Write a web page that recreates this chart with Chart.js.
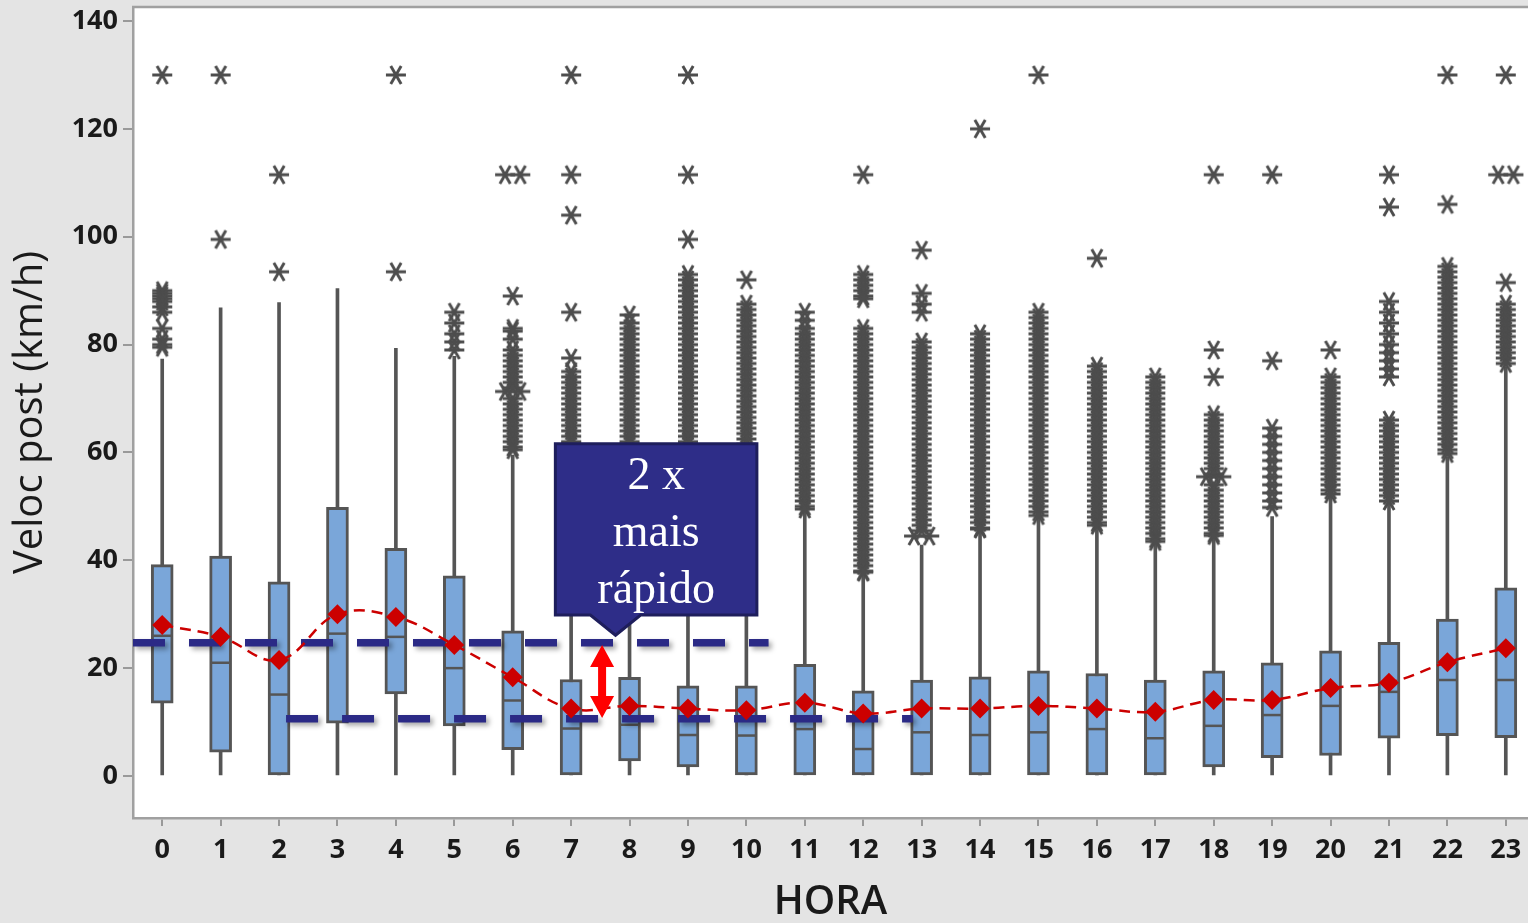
<!DOCTYPE html>
<html lang="pt-BR">
<head>
    <meta charset="UTF-8">
    <title>Veloc post por HORA</title>
    <script src="https://cdn.jsdelivr.net/npm/chart.js"></script>
    <style>
        html, body { margin: 0; padding: 0; background: #e4e4e4; }
        canvas { display: block; }
    </style>
</head>
<body>
    <canvas id="boxChart" width="1528" height="923"></canvas>
    <script>
        // Horas e estatísticas dos boxplots (km/h)
        const hours = [0, 1, 2, 3, 4, 5, 6, 7, 8, 9, 10, 11, 12, 13, 14, 15, 16, 17, 18, 19, 20, 21, 22, 23];
        const whiskerLow = [0, 0, 0, 0, 0, 0, 0, 0, 0, 0, 0, 0, 0, 0, 0, 0, 0, 0, 0, 0, 0, 0, 0, 0];
        const q1 = [13.5, 4.4, 0, 9.8, 15.2, 9.3, 4.9, 0, 2.8, 1.7, 0, 0, 0, 0, 0, 0, 0, 0, 1.7, 3.4, 3.8, 7.0, 7.5, 7.1];
        const medians = [26.0, 21.0, 15.1, 26.4, 25.8, 20.0, 14.0, 8.8, 9.5, 7.6, 7.5, 8.7, 5.0, 8.1, 7.6, 8.1, 8.7, 7.0, 9.3, 11.3, 13.0, 15.6, 17.8, 17.8];
        const q3 = [39.2, 40.8, 36.0, 49.8, 42.2, 37.1, 26.9, 17.9, 18.3, 16.7, 16.7, 20.7, 15.8, 17.8, 18.4, 19.5, 19.0, 17.8, 19.5, 21.0, 23.2, 24.8, 29.1, 34.9];
        const whiskerHigh = [77.3, 86.8, 87.8, 90.4, 79.3, 77.8, 59.5, 61.0, 60.0, 61.0, 41.5, 49.3, 37.3, 42.8, 45.6, 48.1, 46.2, 43.1, 44.4, 48.1, 51.8, 50.6, 59.2, 75.9];
        const means = [28.0, 25.8, 21.5, 30.0, 29.5, 24.3, 18.3, 12.5, 13.0, 12.5, 12.2, 13.6, 11.6, 12.5, 12.5, 13.0, 12.5, 11.9, 14.1, 14.1, 16.3, 17.3, 21.1, 23.7];

        // Outliers por hora
        const outliers = [
            [130, 90, 89.5, 89, 88.5, 88, 87, 86, 83, 81, 80, 79.5],
            [130, 99.5],
            [111.5, 93.5],
            [],
            [130, 93.5],
            [86, 84, 82, 80.5, 79],
            [111.5, 111.5, 89, 83, 82.5, 81, 79, 78, 77, 76, 75, 74, 73, 72, 71.3, 71.3, 70, 69, 68, 67, 66, 65, 64, 63, 62, 61, 60.5],
            [130, 111.5, 104, 86, 77.5, 75, 74, 73, 72, 71, 70, 69, 68, 67, 66, 65, 64, 63, 62, 61.7],
            [85.5, 84, 83, 82, 81, 80, 79, 78, 77, 76, 75, 74, 73, 72, 71, 70, 69, 68, 67, 66, 65, 64, 63, 62, 61.5],
            [130, 111.5, 99.5, 93, 92, 91, 90, 89, 88, 87, 86, 85, 84, 83, 82, 81, 80, 79, 78, 77, 76, 75, 74, 73, 72, 71, 70, 69, 68, 67, 66, 65, 64, 63, 62, 61.5],
            [92, 87.5, 86.5, 85.5, 84.5, 83.5, 82.5, 81.5, 80.5, 79.5, 78.5, 77.5, 76.5, 75.5, 74.5, 73.5, 72.5, 71.5, 70.5, 69.5, 68.5, 67.5, 66.5, 65.5, 64.5, 63.5, 62.5, 61.5, 60.5, 59.5, 58.5, 57.5, 56.5, 55.5, 54.5, 53.5, 52.5, 51.5, 50.5, 49.5, 48.5, 47.5, 46.5, 45.5, 44.5, 43.5, 42.5, 42],
            [86, 84.5, 83, 82, 81, 80, 79, 78, 77, 76, 75, 74, 73, 72, 71, 70, 69, 68, 67, 66, 65, 64, 63, 62, 61, 60, 59, 58, 57, 56, 55, 54, 53, 52, 51, 50, 49.5],
            [111.5, 93, 92, 91, 90, 89, 88.5, 83, 82, 81, 80, 79, 78, 77, 76, 75, 74, 73, 72, 71, 70, 69, 68, 67, 66, 65, 64, 63, 62, 61, 60, 59, 58, 57, 56, 55, 54, 53, 52, 51, 50, 49, 48, 47, 46, 45, 44, 43, 42, 41, 40, 39, 38, 37.8],
            [97.5, 89.5, 87.5, 86, 80.5, 79.5, 78.5, 77.5, 76.5, 75.5, 74.5, 73.5, 72.5, 71.5, 70.5, 69.5, 68.5, 67.5, 66.5, 65.5, 64.5, 63.5, 62.5, 61.5, 60.5, 59.5, 58.5, 57.5, 56.5, 55.5, 54.5, 53.5, 52.5, 51.5, 50.5, 49.5, 48.5, 47.5, 46.5, 45.5, 44.5, 44.5],
            [120, 82, 81, 80, 79, 78, 77, 76, 75, 74, 73, 72, 71, 70, 69, 68, 67, 66, 65, 64, 63, 62, 61, 60, 59, 58, 57, 56, 55, 54, 53, 52, 51, 50, 49, 48, 47, 46, 45.8],
            [130, 86, 85, 84, 83, 82, 81, 80, 79, 78, 77, 76, 75, 74, 73, 72, 71, 70, 69, 68, 67, 66, 65, 64, 63, 62, 61, 60, 59, 58, 57, 56, 55, 54, 53, 52, 51, 50, 49, 48.3],
            [96, 76, 75, 74, 73, 72, 71, 70, 69, 68, 67, 66, 65, 64, 63, 62, 61, 60, 59, 58, 57, 56, 55, 54, 53, 52, 51, 50, 49, 48, 47, 46.5],
            [74, 73, 72, 71, 70, 69, 68, 67, 66, 65, 64, 63, 62, 61, 60, 59, 58, 57, 56, 55, 54, 53, 52, 51, 50, 49, 48, 47, 46, 45, 44, 43.5],
            [111.5, 79, 74, 67, 66, 65, 64, 63, 62, 61, 60, 59, 58, 57, 56, 55.5, 55.5, 54, 53, 52, 51, 50, 49, 48, 47, 46, 45, 44.6],
            [111.5, 77, 64.5, 63, 61.5, 60, 58.5, 57, 55.5, 54, 52.5, 51, 49.8],
            [79, 74, 73, 72, 71, 70, 69, 68, 67, 66, 65, 64, 63, 62, 61, 60, 59, 58, 57, 56, 55, 54, 53, 52.3],
            [111.5, 105.5, 88, 86, 84, 82, 80, 78.5, 77, 75.5, 74, 66, 65, 64, 63, 62, 61, 60, 59, 58, 57, 56, 55, 54, 53, 52, 51],
            [130, 106, 94.5, 93.5, 92.5, 91.5, 90.5, 89.5, 88.5, 87.5, 86.5, 85.5, 84.5, 83.5, 82.5, 81.5, 80.5, 79.5, 78.5, 77.5, 76.5, 75.5, 74.5, 73.5, 72.5, 71.5, 70.5, 69.5, 68.5, 67.5, 66.5, 65.5, 64.5, 63.5, 62.5, 61.5, 60.5, 59.8],
            [130, 111.5, 111.5, 91.5, 87.5, 86.5, 85.5, 84.5, 83.5, 82.5, 81.5, 80.5, 79.5, 78.5, 77.5, 76.5]
        ];

        // Linhas de referência (velocidade) e eixo
        const refUpper = 24.7;
        const refLower = 10.6;
        const yTicks = [0, 20, 40, 60, 80, 100, 120, 140];
        const calloutLines = ['2 x', 'mais', 'rápido'];

        // Geometria das anotações (coordenadas dos dados)
        const upperSpan = [-0.5, 10.38];
        const lowerSpan = [2.12, 12.85];
        const callout = { x0: 6.73, x1: 10.18, y0: 29.85, y1: 61.6, baseX0: 7.33, baseX1: 8.19, tipX: 7.76, tipY: 26.1 };
        const arrow = { x: 7.53, y0: 10.75, y1: 24.3 };

        const GRAY = '#555555';

        // marcador asterisco (6 raios) como no Minitab
        function makeAsterisk() {
            const c = document.createElement('canvas');
            c.width = 24; c.height = 24;
            const g = c.getContext('2d');
            g.strokeStyle = '#4d4d4d';
            g.lineWidth = 2.9;
            g.beginPath();
            g.moveTo(2, 12); g.lineTo(22, 12);
            g.moveTo(6.8, 3); g.lineTo(17.2, 21);
            g.moveTo(17.2, 3); g.lineTo(6.8, 21);
            g.stroke();
            return c;
        }
        const asterisk = makeAsterisk();

        // outliers repetidos ficam lado a lado
        const outlierPoints = [];
        outliers.forEach((vals, i) => {
            const count = {};
            vals.forEach(v => { count[v] = (count[v] || 0) + 1; });
            const used = {};
            vals.forEach(v => {
                const k = used[v] || 0;
                used[v] = k + 1;
                const off = count[v] > 1 ? (k - (count[v] - 1) / 2) * 0.26 : 0;
                outlierPoints.push({ x: hours[i] + off, y: v });
            });
        });

        const bgPlugin = {
            id: 'bg',
            beforeDraw(chart) {
                const { ctx, chartArea: a } = chart;
                ctx.save();
                ctx.fillStyle = '#e4e4e4';
                ctx.fillRect(0, 0, chart.width, chart.height);
                ctx.fillStyle = '#ffffff';
                ctx.fillRect(a.left, a.top, a.right - a.left, a.bottom - a.top);
                ctx.restore();
            },
            afterDraw(chart) {
                const { ctx, chartArea: a } = chart;
                ctx.save();
                ctx.strokeStyle = '#a0a0a0';
                ctx.lineWidth = 2.5;
                ctx.beginPath();
                ctx.moveTo(a.left - 1, a.top);
                ctx.lineTo(a.right, a.top);
                ctx.stroke();
                ctx.restore();
            }
        };

        const shadowPlugin = {
            id: 'shadow',
            beforeDatasetDraw(chart, args) {
                if (!chart.data.datasets[args.index].shadow) return;
                const ctx = chart.ctx;
                ctx.save();
                ctx.shadowColor = 'rgba(0,0,0,0.35)';
                ctx.shadowBlur = 5;
                ctx.shadowOffsetX = 3;
                ctx.shadowOffsetY = 3;
            },
            afterDatasetDraw(chart, args) {
                if (!chart.data.datasets[args.index].shadow) return;
                chart.ctx.restore();
            }
        };

        const calloutPlugin = {
            id: 'callout',
            afterDraw(chart) {
                const { ctx, scales: { x, y } } = chart;
                const l = x.getPixelForValue(callout.x0), r = x.getPixelForValue(callout.x1);
                const t = y.getPixelForValue(callout.y1), b = y.getPixelForValue(callout.y0);
                const bl = x.getPixelForValue(callout.baseX0), br = x.getPixelForValue(callout.baseX1);
                const tx = x.getPixelForValue(callout.tipX), ty = y.getPixelForValue(callout.tipY);
                ctx.save();
                ctx.beginPath();
                ctx.moveTo(l, t);
                ctx.lineTo(r, t);
                ctx.lineTo(r, b);
                ctx.lineTo(br, b);
                ctx.lineTo(tx, ty);
                ctx.lineTo(bl, b);
                ctx.lineTo(l, b);
                ctx.closePath();
                ctx.fillStyle = '#2e2d88';
                ctx.fill();
                ctx.lineWidth = 3;
                ctx.strokeStyle = '#1e1e5c';
                ctx.stroke();

                ctx.fillStyle = '#ffffff';
                ctx.font = '46px "Liberation Serif", serif';
                ctx.textAlign = 'center';
                ctx.textBaseline = 'alphabetic';
                const cx = (l + r) / 2;
                calloutLines.forEach((s, i) => ctx.fillText(s, cx, t + 45 + i * 57));

                // seta dupla vermelha
                const ax = x.getPixelForValue(arrow.x);
                const ay0 = y.getPixelForValue(arrow.y1), ay1 = y.getPixelForValue(arrow.y0);
                const head = 22, hw = 12, sw = 4;
                ctx.fillStyle = '#ff0000';
                ctx.beginPath();
                ctx.moveTo(ax, ay0);
                ctx.lineTo(ax + hw, ay0 + head);
                ctx.lineTo(ax + sw, ay0 + head);
                ctx.lineTo(ax + sw, ay1 - head);
                ctx.lineTo(ax + hw, ay1 - head);
                ctx.lineTo(ax, ay1);
                ctx.lineTo(ax - hw, ay1 - head);
                ctx.lineTo(ax - sw, ay1 - head);
                ctx.lineTo(ax - sw, ay0 + head);
                ctx.lineTo(ax - hw, ay0 + head);
                ctx.closePath();
                ctx.fill();
                ctx.restore();
            }
        };

        const tickFont = { family: '"Open Sans", sans-serif', size: 27, weight: '700' };

        new Chart(document.getElementById('boxChart'), {
            type: 'bar',
            data: {
                datasets: [
                    {
                        type: 'bar',
                        label: 'whiskers',
                        data: hours.map((h, i) => ({ x: h, y: [whiskerLow[i], whiskerHigh[i]] })),
                        backgroundColor: GRAY,
                        barThickness: 3,
                        grouped: false,
                        order: 10
                    },
                    {
                        type: 'line',
                        label: 'outliers',
                        data: outlierPoints,
                        showLine: false,
                        pointStyle: asterisk,
                        pointRadius: 10,
                        order: 9
                    },
                    {
                        type: 'bar',
                        label: 'caixas',
                        data: hours.map((h, i) => ({ x: h, y: [q1[i], q3[i]] })),
                        backgroundColor: '#7aa6d9',
                        borderColor: GRAY,
                        borderWidth: 3,
                        borderSkipped: false,
                        barThickness: 22,
                        grouped: false,
                        order: 8
                    },
                    {
                        type: 'line',
                        label: 'mediana',
                        data: hours.map((h, i) => ({ x: h, y: medians[i] })),
                        showLine: false,
                        pointStyle: 'line',
                        pointRadius: 10,
                        pointBorderWidth: 2.5,
                        pointBorderColor: GRAY,
                        order: 7
                    },
                    {
                        type: 'line',
                        label: 'ref1',
                        shadow: true,
                        data: upperSpan.map(v => ({ x: v, y: refUpper })),
                        borderColor: '#2b2a86',
                        borderWidth: 7.5,
                        borderDash: [32, 24],
                        borderCapStyle: 'butt',
                        pointRadius: 0,
                        order: 6
                    },
                    {
                        type: 'line',
                        label: 'ref2',
                        shadow: true,
                        data: lowerSpan.map(v => ({ x: v, y: refLower })),
                        borderColor: '#2b2a86',
                        borderWidth: 7.5,
                        borderDash: [32, 24],
                        borderCapStyle: 'butt',
                        pointRadius: 0,
                        order: 5
                    },
                    {
                        type: 'line',
                        label: 'média',
                        data: hours.map((h, i) => ({ x: h, y: means[i] })),
                        borderColor: '#cc0000',
                        borderWidth: 2.5,
                        borderDash: [11, 7],
                        tension: 0.4,
                        pointStyle: 'rectRot',
                        pointRadius: 10,
                        pointBackgroundColor: '#cc0000',
                        pointBorderWidth: 0,
                        order: 4
                    }
                ]
            },
            options: {
                responsive: false,
                animation: false,
                layout: { autoPadding: false, padding: { top: 7, right: 0, bottom: 0, left: 0 } },
                plugins: { legend: { display: false }, tooltip: { enabled: false } },
                scales: {
                    x: {
                        type: 'linear',
                        offset: false,
                        min: -0.5,
                        max: 23.38,
                        afterBuildTicks: s => { s.ticks = hours.map(v => ({ value: v })); },
                        afterFit: s => { s.height = 105; s.paddingLeft = 0; s.paddingRight = 0; },
                        grid: { offset: false, drawOnChartArea: false, drawTicks: true, tickLength: 8, color: '#999999', lineWidth: 2 },
                        border: { display: true, color: '#a0a0a0', width: 2.5 },
                        ticks: { font: tickFont, color: '#1a1a1a', padding: 8, autoSkip: false, maxRotation: 0 },
                        title: {
                            display: true,
                            text: 'HORA',
                            color: '#1a1a1a',
                            font: { family: '"Open Sans", sans-serif', size: 40, weight: '600', lineHeight: 1 },
                            padding: { top: -4, bottom: 0 }
                        }
                    },
                    y: {
                        type: 'linear',
                        min: -7.79,
                        max: 142.6,
                        afterBuildTicks: s => { s.ticks = yTicks.map(v => ({ value: v })); },
                        afterFit: s => { s.width = 133; s.paddingTop = 0; s.paddingBottom = 0; },
                        grid: { drawOnChartArea: false, drawTicks: true, tickLength: 10, color: '#999999', lineWidth: 2 },
                        border: { display: true, color: '#a0a0a0', width: 2.5 },
                        ticks: { font: tickFont, color: '#1a1a1a', padding: 5 },
                        title: {
                            display: true,
                            text: 'Veloc post (km/h)',
                            color: '#1a1a1a',
                            font: { family: '"Open Sans", sans-serif', size: 40, weight: '500', lineHeight: 1 },
                            padding: { top: 11, bottom: 0 }
                        }
                    }
                }
            },
            plugins: [bgPlugin, shadowPlugin, calloutPlugin]
        });
    </script>
</body>
</html>
